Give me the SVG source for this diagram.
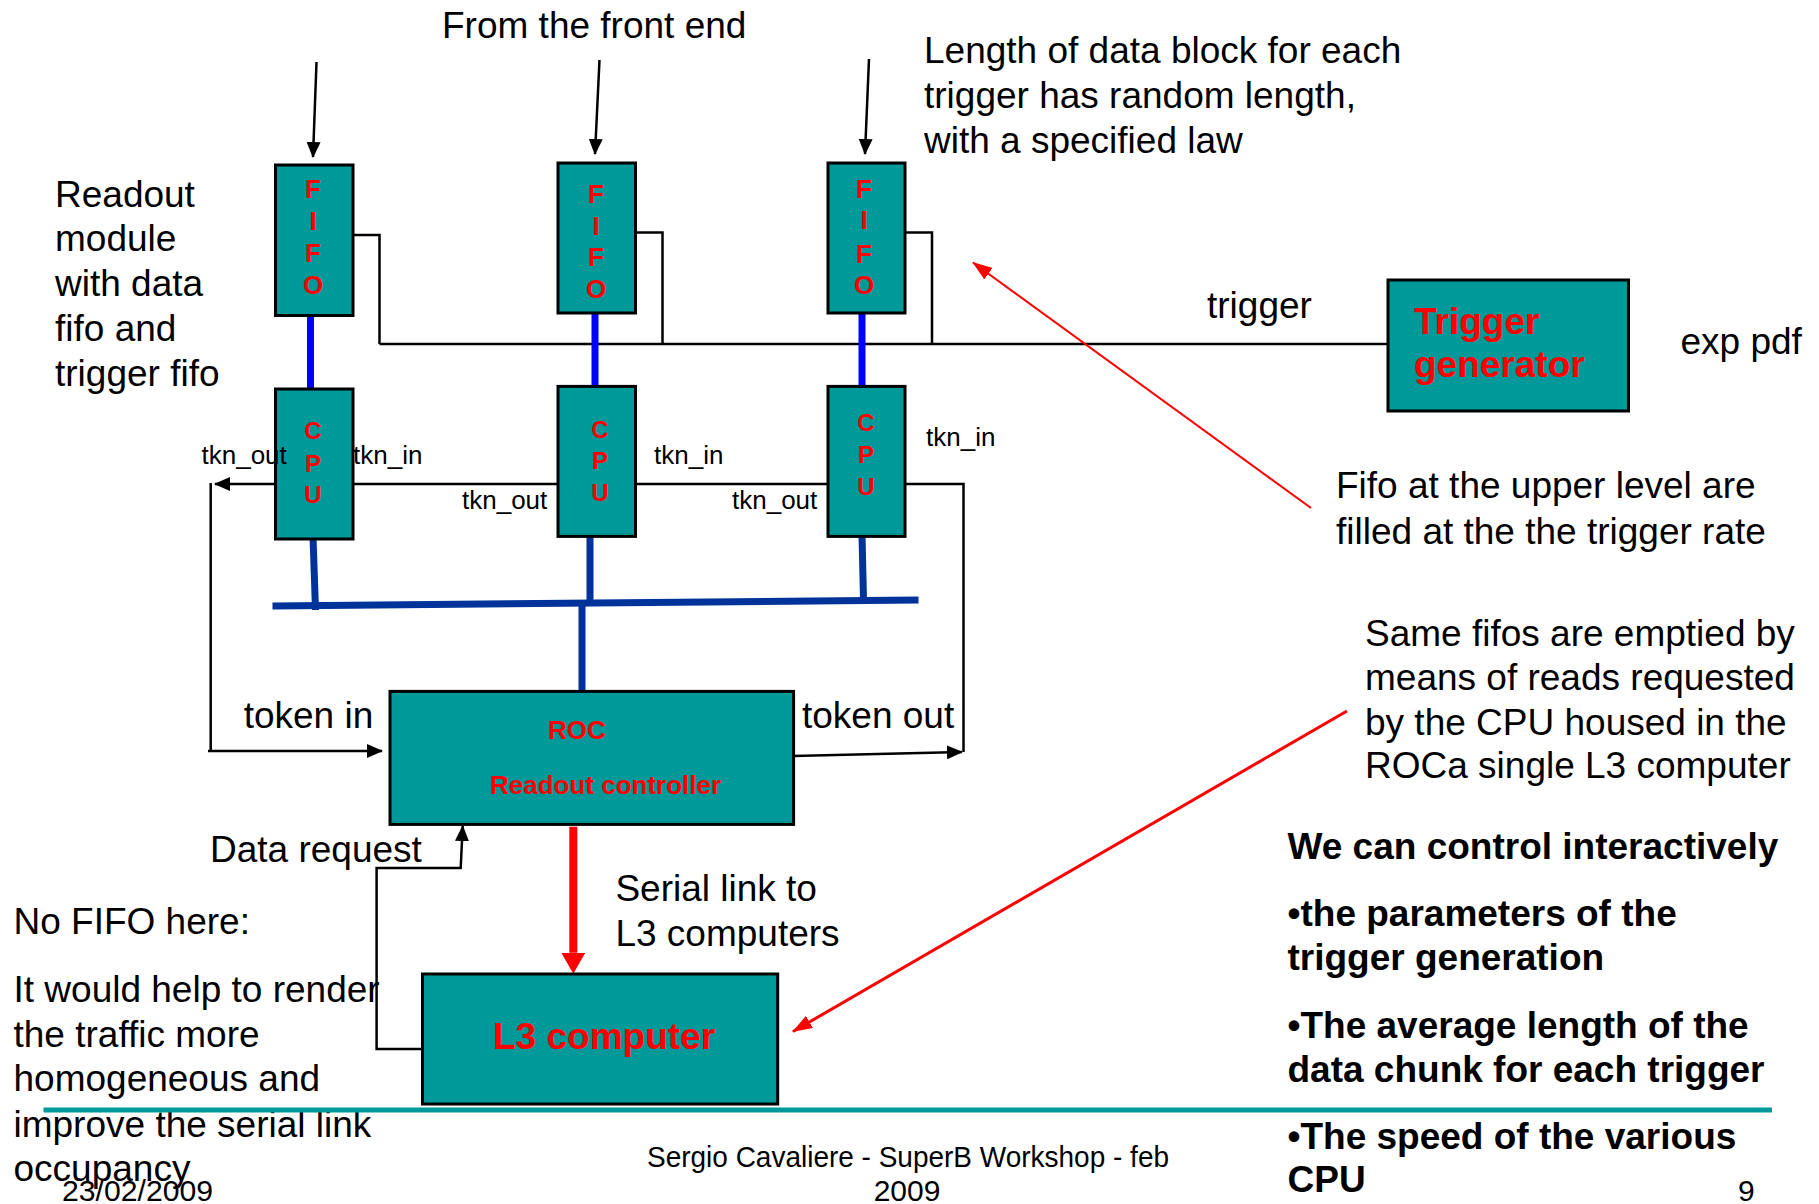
<svg xmlns="http://www.w3.org/2000/svg" width="1819" height="1204" viewBox="0 0 1819 1204">
<style>
text { font-family: "Liberation Sans", Arial, sans-serif; fill: #000; }
.box { fill: #009999; stroke: #000; stroke-width: 3; }
.big { font-size: 37px; }
.sm { font-size: 26px; }
.bold { font-weight: bold; }
.red { fill: #FF0000; font-weight: bold; }
.vl { font-size: 26px; text-anchor: middle; }
.vc { font-size: 24px; text-anchor: middle; }
.ln { fill: none; stroke: #000; stroke-width: 2.5; }
.blue { stroke: #0000FF; stroke-width: 7; fill: none; }
.bus { stroke: #003399; stroke-width: 7; fill: none; }
.foot { font-size: 30px; }
</style>
<defs>
<marker id="ab" markerUnits="userSpaceOnUse" markerWidth="16" markerHeight="14" refX="15" refY="7" orient="auto"><path d="M0,0 L16,7 L0,14 z" fill="#000"/></marker>
<marker id="ar" markerUnits="userSpaceOnUse" markerWidth="20" markerHeight="14" refX="19" refY="7" orient="auto"><path d="M0,0 L20,7 L0,14 z" fill="#FF0000"/></marker>
<marker id="art" markerUnits="userSpaceOnUse" markerWidth="21" markerHeight="24" refX="0" refY="12" orient="auto"><path d="M0,0 L21,12 L0,24 z" fill="#FF0000"/></marker>
</defs>
<rect width="1819" height="1204" fill="#fff"/>

<g id="connectors">
  <!-- from front end -->
  <line class="ln" x1="316.5" y1="62" x2="313" y2="157" marker-end="url(#ab)"/>
  <line class="ln" x1="599.5" y1="60" x2="595" y2="154" marker-end="url(#ab)"/>
  <line class="ln" x1="869" y1="59" x2="865" y2="154" marker-end="url(#ab)"/>
  <!-- trigger bus -->
  <line class="ln" x1="379.5" y1="344" x2="1388" y2="344" stroke-width="3"/>
  <polyline class="ln" points="353,235 379.5,235 379.5,344"/>
  <polyline class="ln" points="635.5,232.5 662.5,232.5 662.5,344"/>
  <polyline class="ln" points="905,232.5 932,232.5 932,344"/>
  <!-- FIFO to CPU -->
  <line class="blue" x1="310.5" y1="310" x2="310.5" y2="388"/>
  <line class="blue" x1="595" y1="307" x2="595" y2="385"/>
  <line class="blue" x1="862" y1="307" x2="862" y2="385"/>
  <!-- CPU bus -->
  <line class="bus" x1="313" y1="536" x2="315.5" y2="610"/>
  <line class="bus" x1="590" y1="535" x2="590" y2="603"/>
  <line class="bus" x1="862" y1="535" x2="863.5" y2="600"/>
  <line class="bus" x1="272.5" y1="606" x2="918.5" y2="600"/>
  <line class="bus" x1="582" y1="603" x2="582" y2="691"/>
  <!-- token ring -->
  <line class="ln" x1="275" y1="484" x2="215" y2="484" marker-end="url(#ab)"/>
  <line class="ln" x1="353" y1="484" x2="558" y2="484"/>
  <line class="ln" x1="635.5" y1="484" x2="828" y2="484"/>
  <polyline class="ln" points="905,484 963.5,484 963.5,752"/>
  <line class="ln" x1="210.7" y1="483" x2="210.7" y2="752"/>
  <line class="ln" x1="208" y1="751" x2="382" y2="751" marker-end="url(#ab)"/>
  <line class="ln" x1="793" y1="756" x2="962" y2="752" marker-end="url(#ab)"/>
  <!-- data request -->
  <polyline class="ln" points="422.5,1049 376.6,1049 376.6,868 460.7,868 462.7,826" marker-end="url(#ab)"/>
  <!-- serial link -->
  <line x1="573.3" y1="826.7" x2="573.3" y2="952.7" stroke="#FF0000" stroke-width="8" marker-end="url(#art)"/>
  <!-- red annotation arrows -->
  <line x1="1311" y1="508" x2="973" y2="262.5" stroke="#FF0000" stroke-width="2" marker-end="url(#ar)"/>
  <line x1="1347" y1="711" x2="793" y2="1031.5" stroke="#FF0000" stroke-width="3" marker-end="url(#ar)"/>
</g>

<g id="fifo1">
  <rect class="box" x="275.5" y="165" width="77.5" height="150.5"/>
  <text class="vl red" x="313" y="198.3">F</text>
  <text class="vl red" x="313" y="230">I</text>
  <text class="vl red" x="313" y="261.7">F</text>
  <text class="vl red" x="313" y="294">O</text>
</g>
<g id="fifo2">
  <rect class="box" x="558" y="163" width="77.5" height="150"/>
  <text class="vl red" x="596" y="203">F</text>
  <text class="vl red" x="596" y="234.6">I</text>
  <text class="vl red" x="596" y="266">F</text>
  <text class="vl red" x="596" y="298">O</text>
</g>
<g id="fifo3">
  <rect class="box" x="828" y="163" width="77" height="150"/>
  <text class="vl red" x="864" y="197.5">F</text>
  <text class="vl red" x="864" y="229">I</text>
  <text class="vl red" x="864" y="262.5">F</text>
  <text class="vl red" x="864" y="293.6">O</text>
</g>
<g id="cpu1">
  <rect class="box" x="275.5" y="389" width="77.5" height="150"/>
  <text class="vc red" x="313" y="439.3">C</text>
  <text class="vc red" x="313" y="471.7">P</text>
  <text class="vc red" x="313" y="502.7">U</text>
</g>
<g id="cpu2">
  <rect class="box" x="558" y="386.4" width="77.5" height="150"/>
  <text class="vc red" x="600" y="437.5">C</text>
  <text class="vc red" x="600" y="469">P</text>
  <text class="vc red" x="600" y="501">U</text>
</g>
<g id="cpu3">
  <rect class="box" x="828" y="386.4" width="77" height="150"/>
  <text class="vc red" x="866" y="431">C</text>
  <text class="vc red" x="866" y="463">P</text>
  <text class="vc red" x="866" y="494.6">U</text>
</g>
<g id="trigger-generator">
  <rect class="box" x="1388" y="280" width="240.5" height="131"/>
  <text class="big red" x="1414" y="334">Trigger</text>
  <text class="big red" x="1414" y="377">generator</text>
</g>
<g id="roc">
  <rect class="box" x="390" y="691.4" width="403.6" height="133"/>
  <text class="sm red" x="548" y="738.6">ROC</text>
  <text class="sm red" x="490" y="794">Readout controller</text>
</g>
<g id="l3">
  <rect class="box" x="422.5" y="974" width="355.2" height="130"/>
  <text class="big red" x="493" y="1048.7">L3 computer</text>
</g>

<g id="labels">
  <text class="big" x="442" y="37.5">From the front end</text>
  <text class="big" x="924" y="62.5">Length of data block for each</text>
  <text class="big" x="924" y="107.5">trigger has random length,</text>
  <text class="big" x="924" y="152.5">with a specified law</text>
  <text class="big" x="55" y="207">Readout</text>
  <text class="big" x="55" y="251">module</text>
  <text class="big" x="55" y="296">with data</text>
  <text class="big" x="55" y="341">fifo and</text>
  <text class="big" x="55" y="386">trigger fifo</text>
  <text class="big" x="1207" y="318">trigger</text>
  <text class="big" x="1680.5" y="353.6">exp pdf</text>
  <text class="sm" x="201.5" y="463.5">tkn_out</text>
  <text class="sm" x="353" y="463.5">tkn_in</text>
  <text class="sm" x="462" y="509">tkn_out</text>
  <text class="sm" x="654" y="463.5">tkn_in</text>
  <text class="sm" x="732" y="509">tkn_out</text>
  <text class="sm" x="926" y="446">tkn_in</text>
  <text class="big" x="1336" y="498">Fifo at the upper level are</text>
  <text class="big" x="1336" y="543.5">filled at the the trigger rate</text>
  <text class="big" x="1365" y="646">Same fifos are emptied by</text>
  <text class="big" x="1365" y="690">means of reads requested</text>
  <text class="big" x="1365" y="734.5">by the CPU housed in the</text>
  <text class="big" x="1365" y="778">ROCa single L3 computer</text>
  <text class="big" x="243.7" y="728">token in</text>
  <text class="big" x="802" y="728">token out</text>
  <text class="big" x="210" y="862">Data request</text>
  <text class="big" x="615.4" y="901">Serial link to</text>
  <text class="big" x="615.4" y="946">L3 computers</text>
  <text class="big" x="13.5" y="933.7">No FIFO here:</text>
  <text class="big" x="13.5" y="1001.5">It  would help to render</text>
  <text class="big" x="13.5" y="1046.7">the traffic more</text>
  <text class="big" x="13.5" y="1091">homogeneous and</text>
  <text class="big" x="13.5" y="1137">improve the serial link</text>
  <text class="big" x="13.5" y="1181">occupancy</text>
  <text class="big bold" x="1287.5" y="859">We  can control interactively</text>
  <text class="big bold" x="1287.5" y="925.5">•the parameters of the</text>
  <text class="big bold" x="1287.5" y="970">trigger generation</text>
  <text class="big bold" x="1287.5" y="1037.6">•The average length of the</text>
  <text class="big bold" x="1287.5" y="1082">data chunk for each trigger</text>
  <text class="big bold" x="1287.5" y="1148.5">•The speed of the various</text>
  <text class="big bold" x="1287.5" y="1192">CPU</text>
</g>

<g id="footer">
  <line x1="43.5" y1="1110" x2="1772" y2="1110" stroke="#009999" stroke-width="5"/>
  <text class="foot" x="647" y="1167" textLength="522" lengthAdjust="spacingAndGlyphs">Sergio Cavaliere - SuperB Workshop - feb</text>
  <text class="foot" x="907" y="1201" text-anchor="middle">2009</text>
  <text class="foot" x="62" y="1201" textLength="151" lengthAdjust="spacingAndGlyphs">23/02/2009</text>
  <text class="foot" x="1738" y="1201">9</text>
</g>
</svg>
